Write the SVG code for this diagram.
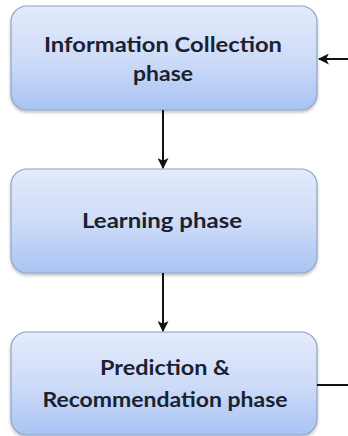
<svg xmlns="http://www.w3.org/2000/svg" width="348" height="436" viewBox="0 0 348 436">
<defs>
<linearGradient id="g" x1="0" y1="0" x2="0" y2="1">
<stop offset="0" stop-color="#e3ebfb"/>
<stop offset="0.5" stop-color="#cfdcf8"/>
<stop offset="1" stop-color="#a8c3f3"/>
</linearGradient>
<marker id="ah" viewBox="0 0 10 10" refX="9" refY="5" markerWidth="11" markerHeight="11" markerUnits="userSpaceOnUse" orient="auto">
<path d="M0,0 L10,5 L0,10 L2.5,5 z" fill="#111"/>
</marker>
<filter id="sh" x="-5%" y="-5%" width="110%" height="115%">
<feDropShadow dx="0" dy="2" stdDeviation="1.5" flood-color="#000" flood-opacity="0.25"/>
</filter>
</defs>
<style>
.box{fill:url(#g);stroke:#8ea2c6;stroke-width:1.2;filter:url(#sh)}
.t{font-family:Lato,"Liberation Sans",Arial,sans-serif;font-weight:bold;font-size:21.5px;fill:#1a2231;text-anchor:middle}
.c{stroke:#111;stroke-width:2;fill:none}
</style>
<g id="info">
<rect class="box" x="11" y="6" width="306" height="104" rx="16"/>
<text class="t" x="163" y="52" textLength="238" lengthAdjust="spacingAndGlyphs">Information Collection</text>
<text class="t" x="163" y="81" textLength="60" lengthAdjust="spacingAndGlyphs">phase</text>
</g>
<g id="learn">
<rect class="box" x="11" y="169" width="306" height="104" rx="16"/>
<text class="t" x="162" y="228" textLength="160" lengthAdjust="spacingAndGlyphs">Learning phase</text>
</g>
<g id="pred">
<rect class="box" x="11" y="332" width="306" height="103" rx="16"/>
<text class="t" x="165" y="375" textLength="130" lengthAdjust="spacingAndGlyphs">Prediction &amp;</text>
<text class="t" x="165" y="407" textLength="245" lengthAdjust="spacingAndGlyphs">Recommendation phase</text>
</g>
<g id="connectors">
<line class="c" x1="163" y1="110" x2="163" y2="168" marker-end="url(#ah)"/>
<line class="c" x1="163" y1="273" x2="163" y2="331" marker-end="url(#ah)"/>
<line class="c" x1="348" y1="59" x2="319" y2="59" marker-end="url(#ah)"/>
<line class="c" x1="317" y1="385" x2="348" y2="385"/>
</g>
</svg>
